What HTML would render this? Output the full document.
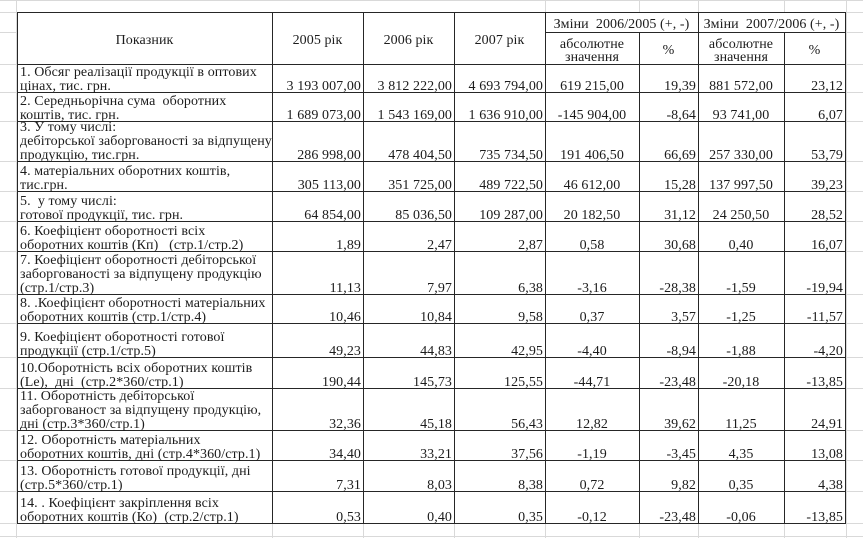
<!DOCTYPE html>
<html>
<head>
<meta charset="utf-8">
<style>
  html, body { margin:0; padding:0; background:#fff; }
  body { width:863px; height:538px; position:relative; overflow:hidden;
         font-family:"Liberation Serif", "DejaVu Serif", serif; font-size:14px; color:#1c1c1c; letter-spacing:0.08px; }
  .g { position:absolute; background:#d9d9d9; }
  .b { position:absolute; background:#262626; }
  .r { position:absolute; left:0; width:863px; }
  .c { position:absolute; top:0; bottom:-1.5px; display:flex; align-items:flex-end; white-space:nowrap;
       line-height:13.8px; padding-bottom:0; box-sizing:border-box; }
  .c0 { left:17px; width:255px; padding-left:3px; justify-content:flex-start; }
  .c1 { left:272px; width:91px; }
  .c2 { left:363px; width:91px; }
  .c3 { left:454px; width:91px; }
  .c4 { left:545px; width:94px; justify-content:center; }
  .c5 { left:639px; width:59px; }
  .c6 { left:698px; width:86px; justify-content:center; }
  .c7 { left:784px; width:61px; }
  .c1,.c2,.c3,.c5,.c7 { justify-content:flex-end; padding-right:2px; }
  .h { position:absolute; display:flex; align-items:center; justify-content:center; text-align:center;
       white-space:nowrap; line-height:13.5px; padding-top:5px; box-sizing:border-box; }
</style>
</head>
<body>
<!-- Excel gridlines -->
<div class="g" style="left:0;top:0;width:863px;height:1px;"></div>
<div class="g" style="left:0;top:536px;width:863px;height:1px;"></div>
<div class="g" style="left:16px;top:0;width:1px;height:538px;"></div>
<div class="g" style="left:846px;top:0;width:1px;height:538px;"></div>
<div class="g" style="left:545px;top:0;width:1px;height:12px;"></div>
<div class="g" style="left:639px;top:0;width:1px;height:12px;"></div>
<div class="g" style="left:698px;top:0;width:1px;height:12px;"></div>
<div class="g" style="left:784px;top:0;width:1px;height:12px;"></div>
<div class="g" style="left:272px;top:524px;width:1px;height:14px;"></div>
<div class="g" style="left:363px;top:524px;width:1px;height:14px;"></div>
<div class="g" style="left:454px;top:524px;width:1px;height:14px;"></div>
<div class="g" style="left:545px;top:524px;width:1px;height:14px;"></div>
<div class="g" style="left:639px;top:524px;width:1px;height:14px;"></div>
<div class="g" style="left:698px;top:524px;width:1px;height:14px;"></div>
<div class="g" style="left:784px;top:524px;width:1px;height:14px;"></div>
<!-- side horizontal gridlines -->
<div class="g" style="left:0;top:12px;width:863px;height:1px;"></div>
<div class="g" style="left:0;top:32px;width:863px;height:1px;"></div>
<div class="g" style="left:0;top:64px;width:863px;height:1px;"></div>
<div class="g" style="left:0;top:92px;width:863px;height:1px;"></div>
<div class="g" style="left:0;top:121px;width:863px;height:1px;"></div>
<div class="g" style="left:0;top:161px;width:863px;height:1px;"></div>
<div class="g" style="left:0;top:191px;width:863px;height:1px;"></div>
<div class="g" style="left:0;top:221px;width:863px;height:1px;"></div>
<div class="g" style="left:0;top:251px;width:863px;height:1px;"></div>
<div class="g" style="left:0;top:294px;width:863px;height:1px;"></div>
<div class="g" style="left:0;top:323px;width:863px;height:1px;"></div>
<div class="g" style="left:0;top:357px;width:863px;height:1px;"></div>
<div class="g" style="left:0;top:388px;width:863px;height:1px;"></div>
<div class="g" style="left:0;top:430px;width:863px;height:1px;"></div>
<div class="g" style="left:0;top:460px;width:863px;height:1px;"></div>
<div class="g" style="left:0;top:491px;width:863px;height:1px;"></div>
<div class="g" style="left:0;top:523px;width:863px;height:1px;"></div>

<!-- white table background -->
<div style="position:absolute;left:17px;top:12px;width:828px;height:512px;background:#fff;"></div>

<!-- table borders: horizontal -->
<div class="b" style="left:17px;top:12px;width:829px;height:1px;"></div>
<div class="b" style="left:545px;top:32px;width:300px;height:1px;"></div>
<div class="b" style="left:17px;top:64px;width:829px;height:1px;"></div>
<div class="b" style="left:17px;top:92px;width:829px;height:1px;"></div>
<div class="b" style="left:17px;top:121px;width:829px;height:1px;"></div>
<div class="b" style="left:17px;top:161px;width:829px;height:1px;"></div>
<div class="b" style="left:17px;top:191px;width:829px;height:1px;"></div>
<div class="b" style="left:17px;top:221px;width:829px;height:1px;"></div>
<div class="b" style="left:17px;top:251px;width:829px;height:1px;"></div>
<div class="b" style="left:17px;top:294px;width:829px;height:1px;"></div>
<div class="b" style="left:17px;top:323px;width:829px;height:1px;"></div>
<div class="b" style="left:17px;top:357px;width:829px;height:1px;"></div>
<div class="b" style="left:17px;top:388px;width:829px;height:1px;"></div>
<div class="b" style="left:17px;top:430px;width:829px;height:1px;"></div>
<div class="b" style="left:17px;top:460px;width:829px;height:1px;"></div>
<div class="b" style="left:17px;top:491px;width:829px;height:1px;"></div>
<div class="b" style="left:17px;top:523px;width:829px;height:1px;"></div>
<!-- table borders: vertical -->
<div class="b" style="left:17px;top:12px;width:1px;height:512px;"></div>
<div class="b" style="left:272px;top:12px;width:1px;height:512px;"></div>
<div class="b" style="left:363px;top:12px;width:1px;height:512px;"></div>
<div class="b" style="left:454px;top:12px;width:1px;height:512px;"></div>
<div class="b" style="left:545px;top:12px;width:1px;height:512px;"></div>
<div class="b" style="left:639px;top:32px;width:1px;height:492px;"></div>
<div class="b" style="left:698px;top:12px;width:1px;height:512px;"></div>
<div class="b" style="left:784px;top:32px;width:1px;height:492px;"></div>
<div class="b" style="left:845px;top:12px;width:1px;height:512px;"></div>

<!-- header -->
<div class="h" style="left:17px;top:12px;width:255px;height:52px;">Показник</div>
<div class="h" style="left:272px;top:12px;width:91px;height:52px;">2005 рік</div>
<div class="h" style="left:363px;top:12px;width:91px;height:52px;">2006 рік</div>
<div class="h" style="left:454px;top:12px;width:91px;height:52px;">2007 рік</div>
<div class="h" style="left:545px;top:12px;width:153px;height:20px;">Зміни&nbsp; 2006/2005 (+, -)</div>
<div class="h" style="left:698px;top:12px;width:147px;height:20px;">Зміни&nbsp; 2007/2006 (+, -)</div>
<div class="h" style="left:545px;top:33px;width:94px;height:31px;">абсолютне<br>значення</div>
<div class="h" style="left:639px;top:33px;width:59px;height:31px;">%</div>
<div class="h" style="left:698px;top:33px;width:86px;height:31px;">абсолютне<br>значення</div>
<div class="h" style="left:784px;top:33px;width:61px;height:31px;">%</div>

<!-- rows -->
<div class="r" style="top:64px;height:28px;">
  <div class="c c0">1. Обсяг реалізації продукції в оптових<br>цінах, тис. грн.</div>
  <div class="c c1">3 193 007,00</div><div class="c c2">3 812 222,00</div><div class="c c3">4 693 794,00</div>
  <div class="c c4">619 215,00</div><div class="c c5">19,39</div><div class="c c6">881 572,00</div><div class="c c7">23,12</div>
</div>
<div class="r" style="top:92px;height:29px;">
  <div class="c c0">2. Середньорічна сума&nbsp; оборотних<br>коштів, тис. грн.</div>
  <div class="c c1">1 689 073,00</div><div class="c c2">1 543 169,00</div><div class="c c3">1 636 910,00</div>
  <div class="c c4">-145 904,00</div><div class="c c5">-8,64</div><div class="c c6">93 741,00</div><div class="c c7">6,07</div>
</div>
<div class="r" style="top:121px;height:40px;">
  <div class="c c0">3. У тому числі:<br>дебіторської заборгованості за відпущену<br>продукцію, тис.грн.</div>
  <div class="c c1">286 998,00</div><div class="c c2">478 404,50</div><div class="c c3">735 734,50</div>
  <div class="c c4">191 406,50</div><div class="c c5">66,69</div><div class="c c6">257 330,00</div><div class="c c7">53,79</div>
</div>
<div class="r" style="top:161px;height:30px;">
  <div class="c c0">4. матеріальних оборотних коштів,<br>тис.грн.</div>
  <div class="c c1">305 113,00</div><div class="c c2">351 725,00</div><div class="c c3">489 722,50</div>
  <div class="c c4">46 612,00</div><div class="c c5">15,28</div><div class="c c6">137 997,50</div><div class="c c7">39,23</div>
</div>
<div class="r" style="top:191px;height:30px;">
  <div class="c c0">5.&nbsp; у тому числі:<br>готової продукції, тис. грн.</div>
  <div class="c c1">64 854,00</div><div class="c c2">85 036,50</div><div class="c c3">109 287,00</div>
  <div class="c c4">20 182,50</div><div class="c c5">31,12</div><div class="c c6">24 250,50</div><div class="c c7">28,52</div>
</div>
<div class="r" style="top:221px;height:30px;">
  <div class="c c0">6. Коефіцієнт оборотності всіх<br>оборотних коштів (Кп)&nbsp;&nbsp; (стр.1/стр.2)</div>
  <div class="c c1">1,89</div><div class="c c2">2,47</div><div class="c c3">2,87</div>
  <div class="c c4">0,58</div><div class="c c5">30,68</div><div class="c c6">0,40</div><div class="c c7">16,07</div>
</div>
<div class="r" style="top:251px;height:43px;">
  <div class="c c0">7. Коефіцієнт оборотності дебіторської<br>заборгованості за відпущену продукцію<br>(стр.1/стр.3)</div>
  <div class="c c1">11,13</div><div class="c c2">7,97</div><div class="c c3">6,38</div>
  <div class="c c4">-3,16</div><div class="c c5">-28,38</div><div class="c c6">-1,59</div><div class="c c7">-19,94</div>
</div>
<div class="r" style="top:294px;height:29px;">
  <div class="c c0">8. .Коефіцієнт оборотності матеріальних<br>оборотних коштів (стр.1/стр.4)</div>
  <div class="c c1">10,46</div><div class="c c2">10,84</div><div class="c c3">9,58</div>
  <div class="c c4">0,37</div><div class="c c5">3,57</div><div class="c c6">-1,25</div><div class="c c7">-11,57</div>
</div>
<div class="r" style="top:323px;height:34px;">
  <div class="c c0">9. Коефіцієнт оборотності готової<br>продукції (стр.1/стр.5)</div>
  <div class="c c1">49,23</div><div class="c c2">44,83</div><div class="c c3">42,95</div>
  <div class="c c4">-4,40</div><div class="c c5">-8,94</div><div class="c c6">-1,88</div><div class="c c7">-4,20</div>
</div>
<div class="r" style="top:357px;height:31px;">
  <div class="c c0">10.Оборотність всіх оборотних коштів<br>(Lе),&nbsp; дні&nbsp; (стр.2*360/стр.1)</div>
  <div class="c c1">190,44</div><div class="c c2">145,73</div><div class="c c3">125,55</div>
  <div class="c c4">-44,71</div><div class="c c5">-23,48</div><div class="c c6">-20,18</div><div class="c c7">-13,85</div>
</div>
<div class="r" style="top:388px;height:42px;">
  <div class="c c0">11. Оборотність дебіторської<br>заборгованост за відпущену продукцію,<br>дні (стр.3*360/стр.1)</div>
  <div class="c c1">32,36</div><div class="c c2">45,18</div><div class="c c3">56,43</div>
  <div class="c c4">12,82</div><div class="c c5">39,62</div><div class="c c6">11,25</div><div class="c c7">24,91</div>
</div>
<div class="r" style="top:430px;height:30px;">
  <div class="c c0">12. Оборотність матеріальних<br>оборотних коштів, дні (стр.4*360/стр.1)</div>
  <div class="c c1">34,40</div><div class="c c2">33,21</div><div class="c c3">37,56</div>
  <div class="c c4">-1,19</div><div class="c c5">-3,45</div><div class="c c6">4,35</div><div class="c c7">13,08</div>
</div>
<div class="r" style="top:460px;height:31px;">
  <div class="c c0">13. Оборотність готової продукції, дні<br>(стр.5*360/стр.1)</div>
  <div class="c c1">7,31</div><div class="c c2">8,03</div><div class="c c3">8,38</div>
  <div class="c c4">0,72</div><div class="c c5">9,82</div><div class="c c6">0,35</div><div class="c c7">4,38</div>
</div>
<div class="r" style="top:491px;height:32px;">
  <div class="c c0">14. . Коефіцієнт закріплення всіх<br>оборотних коштів (Ко)&nbsp; (стр.2/стр.1)</div>
  <div class="c c1">0,53</div><div class="c c2">0,40</div><div class="c c3">0,35</div>
  <div class="c c4">-0,12</div><div class="c c5">-23,48</div><div class="c c6">-0,06</div><div class="c c7">-13,85</div>
</div>
</body>
</html>
